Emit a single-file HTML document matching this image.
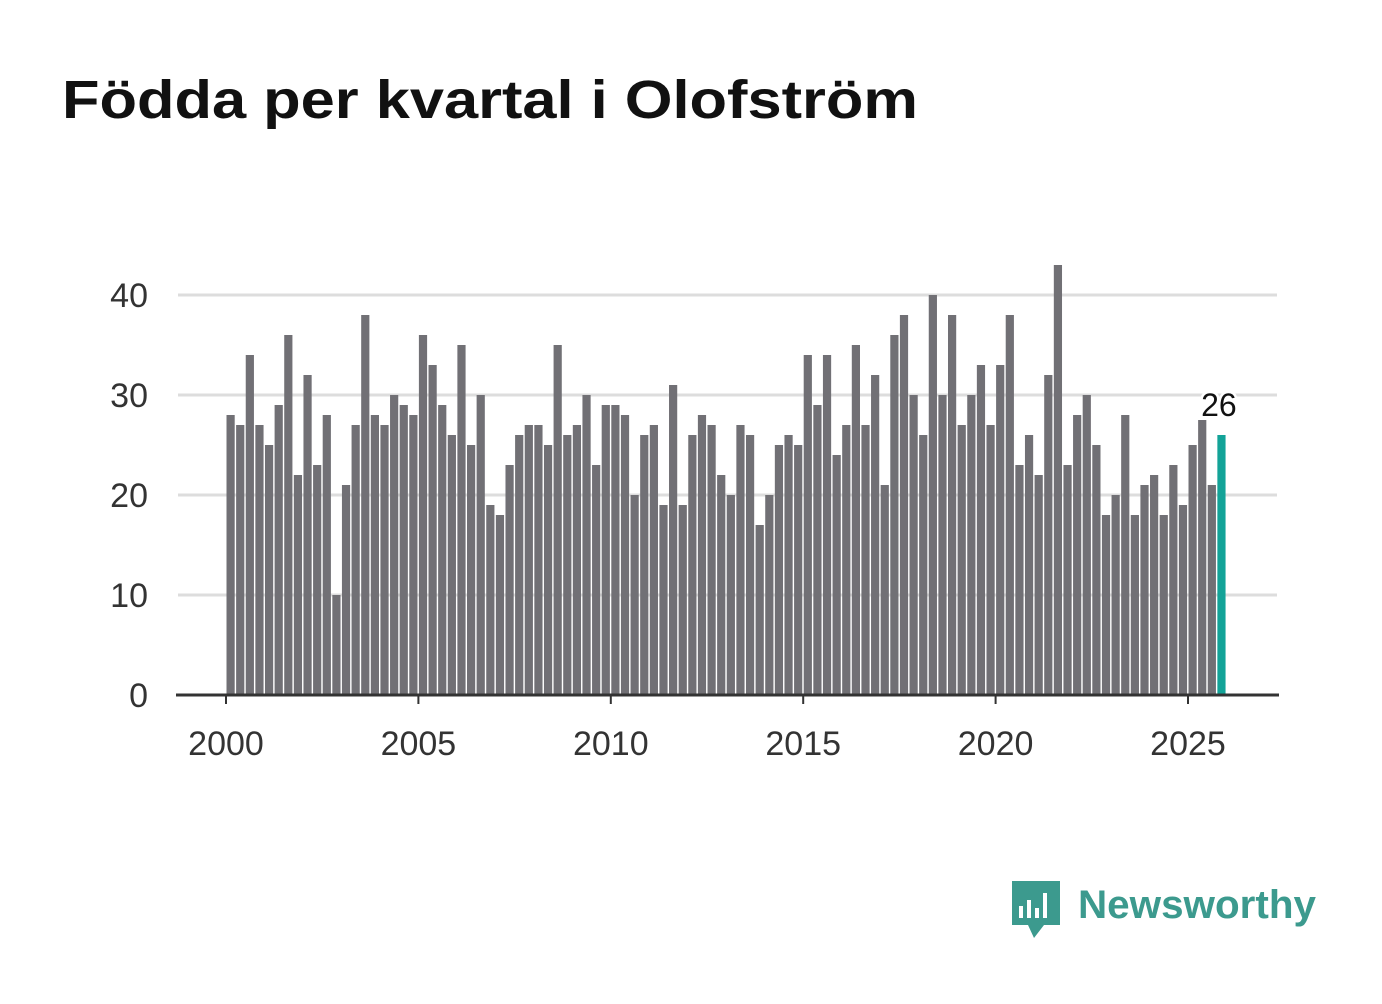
<!DOCTYPE html>
<html><head><meta charset="utf-8"><style>
body{margin:0;width:1382px;height:999px;background:#fff;font-family:"Liberation Sans",sans-serif;overflow:hidden}
</style></head><body>
<svg width="1382" height="999">
<text x="62" y="118" font-size="54" font-weight="bold" fill="#111" textLength="856" lengthAdjust="spacingAndGlyphs">Födda per kvartal i Olofström</text>
<g id="grid"></g>
<g id="bars"></g>
<g id="axes"></g>
<g>
<path d="M1012 881h48v44h-16l-10 13-6-13h-16z" fill="#3c9a8e"/>
<rect x="1019" y="906" width="4" height="12" fill="#fff"/><rect x="1027" y="900" width="4" height="18" fill="#fff"/><rect x="1035" y="908" width="4" height="10" fill="#fff"/><rect x="1043" y="893" width="4" height="25" fill="#fff"/>
<text x="1078" y="918" font-size="40" font-weight="bold" fill="#3c9a8e" textLength="238" lengthAdjust="spacingAndGlyphs">Newsworthy</text>
</g>
</svg>
<script>
const years=[2000,2005,2010,2015,2020,2025];
const yTicks=[0,10,20,30,40];
const values=[28,27,34,27,25,29,36,22,32,23,28,10,21,27,38,28,27,30,29,28,36,33,29,26,35,25,30,19,18,23,26,27,27,25,35,26,27,30,23,29,29,28,20,26,27,19,31,19,26,28,27,22,20,27,26,17,20,25,26,25,34,29,34,24,27,35,27,32,21,36,38,30,26,40,30,38,27,30,33,27,33,38,23,26,22,32,43,23,28,30,25,18,20,28,18,21,22,18,23,19,25,27.5,21,26];
const NS='http://www.w3.org/2000/svg';
const x=t=>226+(t-2000)*38.48;
const y=v=>695-v*10;
const mk=(p,tag,a)=>{const e=document.createElementNS(NS,tag);for(const k in a)e.setAttribute(k,a[k]);p.appendChild(e);return e;};
const grid=document.getElementById('grid'),bars=document.getElementById('bars'),axes=document.getElementById('axes');
yTicks.forEach(v=>{
 if(v>0){const l=mk(grid,'line',{x1:178,x2:1277,y1:y(v),y2:y(v),stroke:'#ddd','stroke-width':3});
 
 }
 const t=mk(axes,'text',{x:148,y:y(v)+12,'font-size':34,fill:'#333','text-anchor':'end'});t.textContent=v;
 
 
});
values.forEach((v,i)=>{
 const last=i===values.length-1;
 const r=mk(bars,'rect',{x:x(2000+i/4)+0.5,y:y(v),width:8.2,height:v*10,fill:last?'#13a398':'#717075'});
 
 
 if(last){const t=mk(bars,'text',{x:x(2000+i/4)+2,y:y(v)-19,'font-size':32,fill:'#111','text-anchor':'middle',stroke:'#fff','stroke-width':5,'paint-order':'stroke'});t.textContent=v;
 
 }
});
const ax=mk(axes,'line',{x1:176,x2:1279,y1:695,y2:695,stroke:'#333','stroke-width':3});


years.forEach(yr=>{
 mk(axes,'line',{x1:x(yr),x2:x(yr),y1:695,y2:704,stroke:'#333','stroke-width':2});
 const t=mk(axes,'text',{x:x(yr),y:755,'font-size':34,fill:'#333','text-anchor':'middle'});t.textContent=yr;
 
 
});
</script>
</body></html>
